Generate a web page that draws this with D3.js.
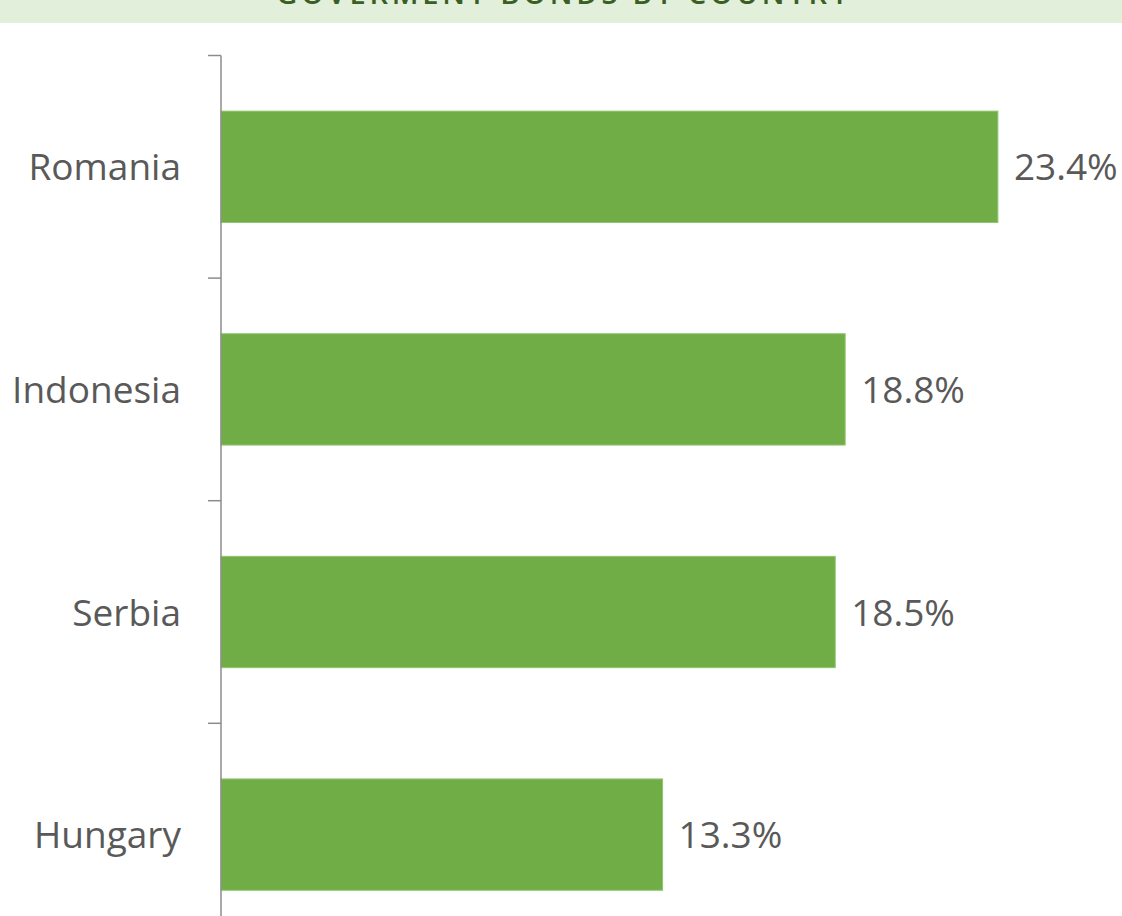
<!DOCTYPE html>
<html>
<head>
<meta charset="utf-8">
<script src="https://cdn.jsdelivr.net/npm/d3@7"></script>
<style>
  html, body { margin: 0; padding: 0; background: #ffffff; overflow: hidden; }
  svg { display: block; }
</style>
</head>
<body>
<svg id="paper" width="1122" height="916"></svg>
<script>
var titleText = "GOVERMENT BONDS BY COUNTRY";
var countries = ["Romania", "Indonesia", "Serbia", "Hungary"];
var shares = [23.4, 18.8, 18.5, 13.3];

var svg = d3.select("#paper");
var width = 1122;

// header band (title sits mostly above the visible area)
svg.append("rect")
    .attr("x", 0).attr("y", 0)
    .attr("width", width).attr("height", 23)
    .attr("fill", "#e2efda");
svg.append("text")
    .attr("x", 564).attr("y", 3.5)
    .attr("text-anchor", "middle")
    .style("font-family", "'Open Sans', sans-serif")
    .style("font-size", "29px")
    .style("font-weight", "600")
    .style("letter-spacing", "3.8px")
    .style("fill", "#3a5e24")
    .text(titleText);

var chartLeft = 221, chartTop = 55.5;
var bandH = 222.6;

var x = d3.scaleLinear().domain([0, 25]).range([chartLeft, chartLeft + 830]);
var y = d3.scaleBand()
    .domain(countries)
    .range([chartTop, chartTop + bandH * countries.length])
    .paddingInner(0.5).paddingOuter(0.25);

var rows = countries.map(function (c, i) { return { name: c, value: shares[i] }; });

svg.selectAll("rect.bar")
    .data(rows)
    .enter().append("rect")
    .attr("class", "bar")
    .attr("x", x(0))
    .attr("y", function (d) { return y(d.name); })
    .attr("width", function (d) { return x(d.value) - x(0); })
    .attr("height", y.bandwidth())
    .attr("fill", "#70ad47")
    .attr("stroke", "#8fc46a")
    .attr("stroke-width", 1);

// axis line with ticks between categories
var axis = svg.append("g");
axis.append("line")
    .attr("x1", chartLeft).attr("x2", chartLeft)
    .attr("y1", chartTop).attr("y2", chartTop + bandH * countries.length)
    .attr("stroke", "#8c8c8c").attr("stroke-width", 1.5);
d3.range(countries.length + 1).forEach(function (i) {
    axis.append("line")
        .attr("x1", chartLeft - 13).attr("x2", chartLeft)
        .attr("y1", chartTop + i * bandH).attr("y2", chartTop + i * bandH)
        .attr("stroke", "#8c8c8c").attr("stroke-width", 1.5);
});

svg.selectAll("text.cat")
    .data(rows)
    .enter().append("text")
    .attr("class", "cat")
    .attr("x", 181)
    .attr("y", function (d) { return y(d.name) + y.bandwidth() / 2 + 13.5; })
    .attr("text-anchor", "end")
    .style("font-family", "'Open Sans', sans-serif")
    .style("font-size", "37px")
    .style("fill", "#595959")
    .text(function (d) { return d.name; });

svg.selectAll("text.val")
    .data(rows)
    .enter().append("text")
    .attr("class", "val")
    .attr("x", function (d) { return x(d.value) + 16; })
    .attr("y", function (d) { return y(d.name) + y.bandwidth() / 2 + 13.5; })
    .style("font-family", "'Open Sans', sans-serif")
    .style("font-size", "37px")
    .style("fill", "#595959")
    .text(function (d) { return d.value.toFixed(1) + "%"; });
</script>
</body>
</html>
